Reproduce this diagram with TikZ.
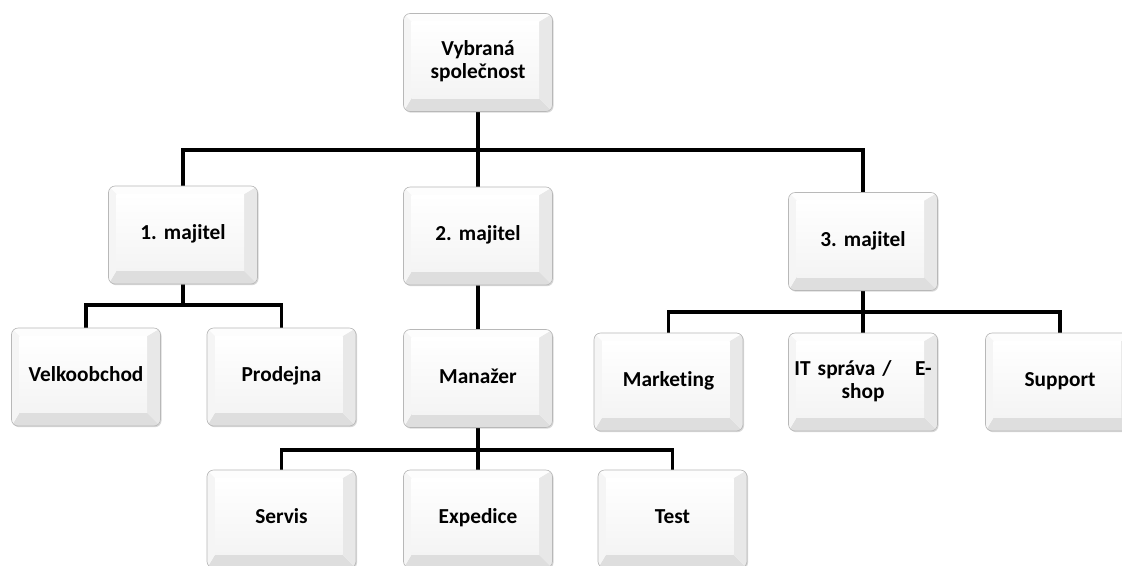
\documentclass[tikz,border=0pt]{standalone}
\usepackage{fontspec}
\setmainfont{Carlito}[Ligatures=NoCommon]
\frenchspacing
\usetikzlibrary{calc,shadows,backgrounds}
\definecolor{bevB}{HTML}{DEDEDE}
\definecolor{bevR}{HTML}{E8E8E8}
\definecolor{bevT}{HTML}{FDFDFD}
\definecolor{bevL}{HTML}{F5F5F5}
\definecolor{faceBot}{HTML}{F4F4F4}
\definecolor{boxEdge}{HTML}{B8B8B8}
\newcommand\bevelfaces{%
  \fill[bevB] let \p1=(path picture bounding box.south west), \p2=(path picture bounding box.north east) in
    (\x1,\y1) -- (\x2,\y1) -- (\x2-10pt,\y1+10pt) -- (\x1+6pt,\y1+10pt) -- cycle;
  \fill[bevR] let \p1=(path picture bounding box.south west), \p2=(path picture bounding box.north east) in
    (\x2,\y1) -- (\x2,\y2) -- (\x2-10pt,\y2-6pt) -- (\x2-10pt,\y1+10pt) -- cycle;
  \fill[bevT] let \p1=(path picture bounding box.south west), \p2=(path picture bounding box.north east) in
    (\x1,\y2) -- (\x2,\y2) -- (\x2-10pt,\y2-6pt) -- (\x1+6pt,\y2-6pt) -- cycle;
  \fill[bevL] let \p1=(path picture bounding box.south west), \p2=(path picture bounding box.north east) in
    (\x1,\y1) -- (\x1,\y2) -- (\x1+6pt,\y2-6pt) -- (\x1+6pt,\y1+10pt) -- cycle;
  \shade[top color=white,bottom color=faceBot] let \p1=(path picture bounding box.south west), \p2=(path picture bounding box.north east) in
    (\x1+6pt,\y1+10pt) rectangle (\x2-10pt,\y2-6pt);
}
\tikzset{
  orgbox/.style={rectangle, rounded corners=5pt, draw=boxEdge, line width=0.5pt,
    fill=white, minimum width=111.75pt, minimum height=73.5pt, inner sep=1pt,
    align=center, text width=104pt,
    font=\fontsize{16}{17.5}\selectfont\bfseries,
    execute at begin node=\strut,
    drop shadow={opacity=0.3, shadow xshift=0.8pt, shadow yshift=-0.9pt},
    path picture={\begin{scope}[sharp corners]\bevelfaces\end{scope}}},
  conn/.style={line width=2.3pt, black}
}
\begin{document}
\begin{tikzpicture}[x=0.75pt, y=-0.75pt]
\useasboundingbox (0,0) rectangle (1122,565);
\clip (0,0) rectangle (1122,565);

\node[orgbox] (top)  at (478,62.5) {Vybraná\\\strut společnost};
\node[orgbox] (m1)   at (183,235) {1. majitel};
\node[orgbox] (m2)   at (478,236) {2. majitel};
\node[orgbox] (m3)   at (863,241.5) {3. majitel};
\node[orgbox] (velk) at (86,377) {Velkoobchod};
\node[orgbox] (prod) at (281.5,377) {Prodejna};
\node[orgbox] (man)  at (478,378.5) {Manažer};
\node[orgbox] (mark) at (668.5,382) {Marketing};
\node[orgbox] (it)   at (863,382) {IT správa /\hspace{1.1em}E-\\\strut shop};
\node[orgbox] (supp) at (1060,382) {Support};
\node[orgbox] (serv) at (281.5,519) {Servis};
\node[orgbox] (exp)  at (478,519) {Expedice};
\node[orgbox] (test) at (672.5,519) {Test};

\coordinate (j0) at (478,150);
\coordinate (j1) at (183,305);
\coordinate (j2) at (478,450);
\coordinate (j3) at (863,312);

\begin{scope}[on background layer]
\fill[white] (0,0) rectangle (1122,565);
\draw[conn] (top.south) -- (j0);
\draw[conn] (m1.north) |- (j0);
\draw[conn] (m2.north) -- (j0);
\draw[conn] (m3.north) |- (j0);
\draw[conn] (m1.south) -- (j1);
\draw[conn] (velk.north) |- (j1);
\draw[conn] (prod.north) |- (j1);
\draw[conn] (m2.south) -- (man.north);
\draw[conn] (man.south) -- (j2);
\draw[conn] (serv.north) |- (j2);
\draw[conn] (exp.north) -- (j2);
\draw[conn] (test.north) |- (j2);
\draw[conn] (m3.south) -- (j3);
\draw[conn] (mark.north) |- (j3);
\draw[conn] (it.north) -- (j3);
\draw[conn] (supp.north) |- (j3);
\end{scope}
\end{tikzpicture}
\end{document}
